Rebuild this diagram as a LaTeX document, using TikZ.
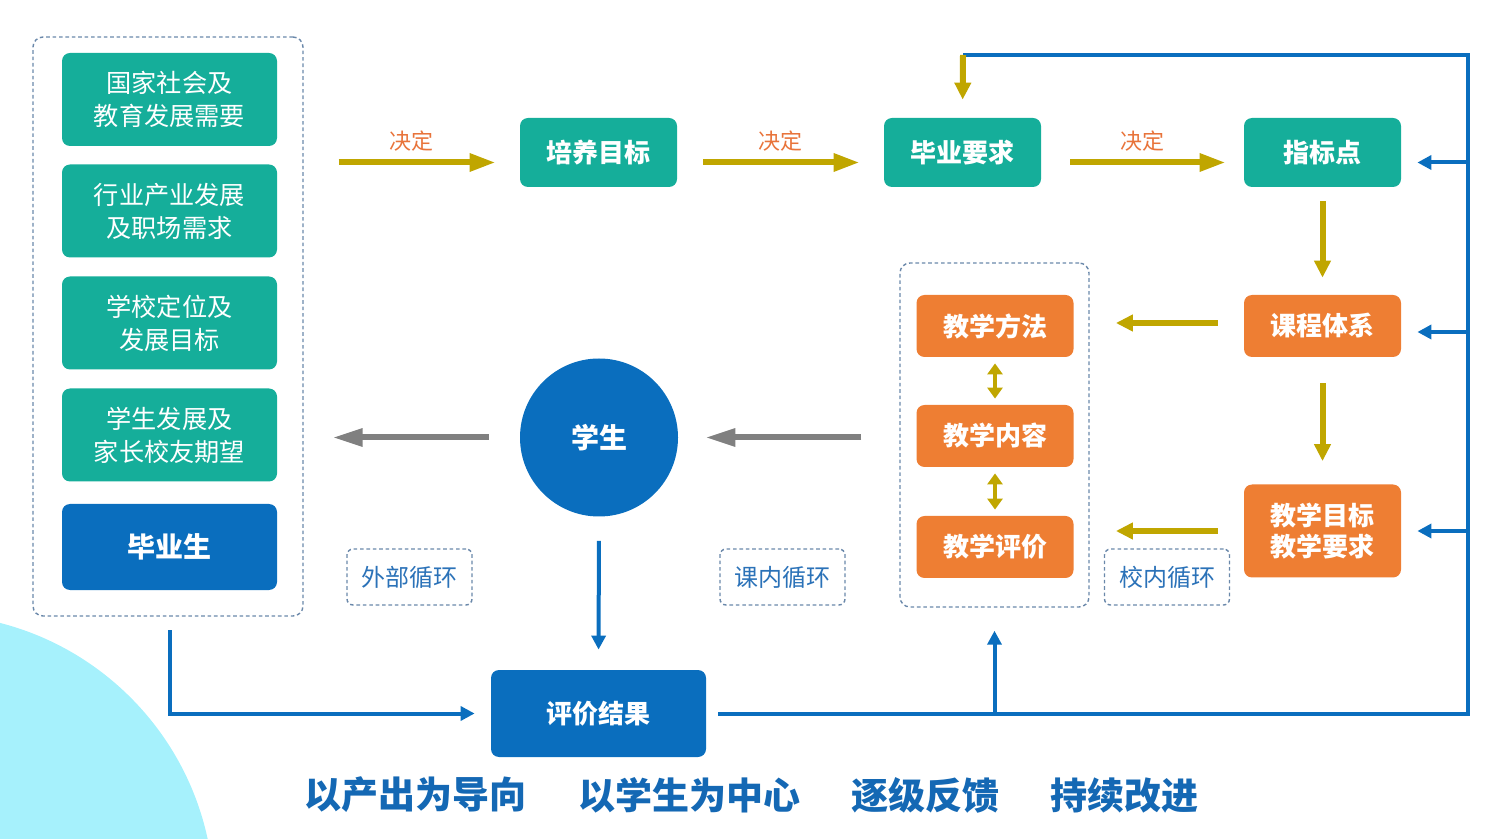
\documentclass[tikz,border=0pt]{standalone}
\usepackage{fontspec}
\setmainfont{Noto Sans CJK SC}
\usetikzlibrary{arrows.meta}
\definecolor{tealc}{HTML}{15AE9A}
\definecolor{bluec}{HTML}{0A6EBE}
\definecolor{orangec}{HTML}{EE7E33}
\definecolor{yelc}{HTML}{C0A600}
\definecolor{greyc}{HTML}{808080}
\definecolor{labc}{HTML}{E8743B}
\definecolor{dashc}{HTML}{6A88AA}
\definecolor{txtblue}{HTML}{2B72B8}
\definecolor{cyanbg}{HTML}{A6F1FC}
\definecolor{bottomblue}{HTML}{1468B4}
\tikzset{
  lbox/.style={fill=tealc, rounded corners=4pt, minimum width=107.5pt, minimum height=46.5pt, text=white, align=center, inner sep=0pt, font=\fontsize{12.6}{16.5}\selectfont},
  tbox/.style={fill=tealc, rounded corners=4pt, minimum width=78.5pt, minimum height=34.5pt, text=white, align=center, inner sep=0pt, font=\bfseries\fontsize{13}{15}\selectfont},
  obox/.style={fill=orangec, rounded corners=4pt, minimum width=78.5pt, minimum height=31pt, text=white, align=center, inner sep=0pt, font=\bfseries\fontsize{13}{15.5}\selectfont},
  bbox/.style={fill=bluec, rounded corners=4pt, text=white, align=center, inner sep=0pt, font=\bfseries\fontsize{13}{15}\selectfont},
  dbox/.style={draw=dashc, line width=0.7pt, dash pattern=on 1.8pt off 1.4pt, rounded corners=5pt, inner sep=0pt},
  dlab/.style={draw=dashc, line width=0.7pt, dash pattern=on 1.8pt off 1.4pt, rounded corners=3pt, inner sep=0pt, minimum width=62.5pt, minimum height=28pt, text=txtblue, font=\fontsize{12}{14}\selectfont},
  declab/.style={text=labc, font=\fontsize{11}{13}\selectfont, above=4pt, inner sep=0pt},
  yarrowh/.style={draw=yelc, line width=3pt, -{Triangle[length=13pt,width=8.5pt]}},
  yarrow/.style={draw=yelc, line width=3pt, -{Triangle[length=8.5pt,width=8pt]}},
  ydouble/.style={draw=yelc, line width=2.4pt, {Triangle[length=5.5pt,width=7.5pt]}-{Triangle[length=5.5pt,width=7.5pt]}},
  garrow/.style={draw=greyc, line width=3pt, -{Triangle[length=15pt,width=8.5pt]}},
  bline/.style={draw=bluec, line width=2pt},
  barrow/.style={draw=bluec, line width=2pt, -{Triangle[length=7pt,width=7pt]}},
  bottomtxt/.style={text=bottomblue, font=\bfseries\fontsize{18.5}{20}\selectfont, inner sep=0pt}
}
\begin{document}
\begin{tikzpicture}[x=0.5pt,y=-0.5pt]
\useasboundingbox (0,0) rectangle (1500,839);
\begin{scope}
\clip (0,0) rectangle (1500,839);
\fill[cyanbg] (-71,899) circle (142.5pt);
\end{scope}

% left column
\node[dbox, minimum width=135pt, minimum height=289.5pt] (lc) at (168,326.5) {};
\node[lbox] (n1) at (169.5,99.5) {国家社会及\\教育发展需要};
\node[lbox] (n2) at (169.5,211) {行业产业发展\\及职场需求};
\node[lbox] (n3) at (169.5,323) {学校定位及\\发展目标};
\node[lbox] (n4) at (169.5,435) {学生发展及\\家长校友期望};
\node[bbox, minimum width=107.5pt, minimum height=43pt, font=\bfseries\fontsize{14}{16}\selectfont] (bys) at (169.5,547) {毕业生};

% top row
\node[tbox] (pymb) at (598.5,152.5) {培养目标};
\node[tbox] (byyq) at (962.5,152.5) {毕业要求};
\node[tbox] (zbd) at (1322.5,152.5) {指标点};

% right column
\node[obox] (kctx) at (1322.5,326) {课程体系};
\node[obox, minimum height=46.5pt] (jxmb) at (1322.5,531) {教学目标\\教学要求};

% teaching container
\node[dbox, minimum width=94.5pt, minimum height=172pt] (rc) at (994.5,435) {};
\node[obox] (jxff) at (995,326) {教学方法};
\node[obox] (jxnr) at (995,436) {教学内容};
\node[obox] (jxpj) at (995,547) {教学评价};

% student and result
\node[circle, fill=bluec, minimum size=79pt, inner sep=0pt, text=white, font=\bfseries\fontsize{14}{16}\selectfont] (xs) at (599,437.5) {学生};
\node[bbox, minimum width=107.5pt, minimum height=43.5pt] (pjjg) at (598.5,713.5) {评价结果};

% loop labels
\node[dlab] (wbxh) at (409.5,577) {外部循环};
\node[dlab] (knxh) at (782.5,577) {课内循环};
\node[dlab] (xnxh) at (1167,577) {校内循环};

% bottom text
\node[bottomtxt] (t1) at (415.5,795) {以产出为导向};
\node[bottomtxt] (t2) at (689.5,795) {以学生为中心};
\node[bottomtxt] (t3) at (925.5,795) {逐级反馈};
\node[bottomtxt] (t4) at (1124.5,795) {持续改进};

% top arrows
\coordinate (a1) at ([yshift=-5pt]pymb.west);
\draw[yarrowh, shorten <=17.5pt, shorten >=12pt] (a1 -| lc.east) -- node[declab] (d1) {决定} (a1);
\draw[yarrowh, shorten <=13pt, shorten >=12pt] ([yshift=-5pt]pymb.east) -- node[declab] (d2) {决定} ([yshift=-5pt]byyq.west);
\draw[yarrowh, shorten <=14.5pt, shorten >=9pt] ([yshift=-5pt]byyq.east) -- node[declab] (d3) {决定} ([yshift=-5pt]zbd.west);

% right column arrows
\draw[yarrow, shorten <=7pt, shorten >=8.5pt] (zbd.south) -- (kctx.north);
\draw[yarrow, shorten <=13pt, shorten >=11.5pt] (kctx.south) -- (jxmb.north);
\draw[yarrow, shorten <=13pt, shorten >=21pt] ([yshift=1.5pt]kctx.west) -- ([yshift=1.5pt]jxff.east);
\draw[yarrow, shorten <=13pt, shorten >=21pt] (jxmb.west) -- (jxmb.west -| jxpj.east);
\draw[ydouble, shorten <=3pt, shorten >=3pt] (jxff.south) -- (jxnr.north);
\draw[ydouble, shorten <=3pt, shorten >=3pt] (jxnr.south) -- (jxpj.north);

% grey arrows
\draw[garrow, shorten <=19pt, shorten >=13.5pt] (rc.west |- xs.east) -- (xs.east);
\draw[garrow, shorten <=15.5pt, shorten >=14.5pt] (xs.west) -- (xs.west -| lc.east);

% blue feedback
\coordinate (cR) at (1468,55);
\coordinate (cL) at (963,55);
\draw[bline] ([xshift=6pt]pjjg.east) -| (cR) -- (cL);
\draw[yarrow, shorten >=9pt] (cL) -- (byyq.north);
\draw[barrow, shorten >=8pt] ([yshift=-5pt]zbd.east -| cR) -- ([yshift=-5pt]zbd.east);
\draw[barrow, shorten >=8pt] ([yshift=-3pt]kctx.east -| cR) -- ([yshift=-3pt]kctx.east);
\draw[barrow, shorten >=8pt] (jxmb.east -| cR) -- (jxmb.east);
\draw[barrow, shorten >=11.5pt] (rc.south |- pjjg.east) -- (rc.south);
\draw[barrow, shorten <=20pt, shorten >=8pt] (bys.south) |- (pjjg.west);
\draw[barrow, shorten <=12pt, shorten >=10pt] (xs.south) -- (pjjg.north);
\end{tikzpicture}
\end{document}
